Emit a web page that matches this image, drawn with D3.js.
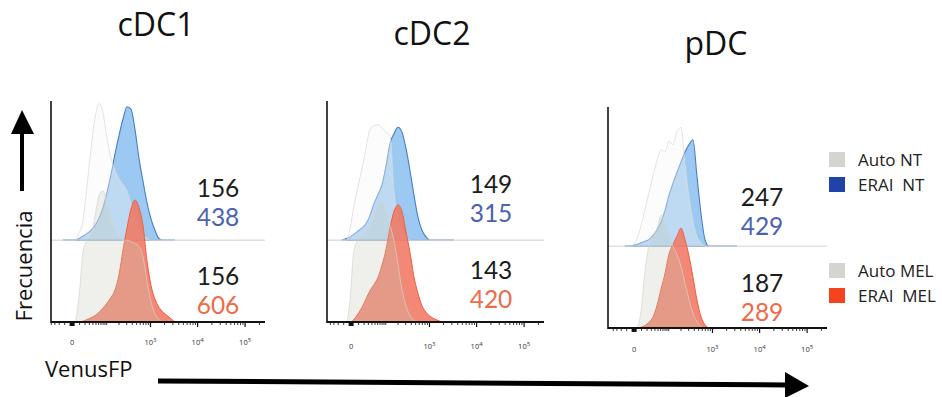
<!DOCTYPE html>
<html><head><meta charset="utf-8">
<script src="https://cdn.jsdelivr.net/npm/d3@7"></script>
<style>
html,body{margin:0;padding:0;background:#fff;}
svg{display:block;font-family:"Open Sans","Noto Sans",sans-serif;}
</style></head>
<body>
<svg id="chart" width="942" height="397"></svg>
<script>
// ---------- DATA ----------
const titles = ["cDC1", "cDC2", "pDC"];
// fluorescence (VenusFP) bin centres shared by all histograms
const binValues = [-13, -6, -1, 3, 9, 16, 24, 34, 47, 62, 80, 101, 128, 160, 200, 247, 305, 375, 460, 563, 688, 840, 1025, 1249, 1521, 1851, 2252, 2737, 3328];
// relative frequency per bin (100 = tier offset)
const autoNT  = [
  [0,0,0,0,8,25,65,110,150,167,155,125,100,85,75,68,60,45,28,14,6,2,0,0,0,0,0,0,0],
  [0,0,15,40,65,88,112,135,140,141,137,132,128,60,25,10,3,0,0,0,0,0,0,0,0,0,0,0,0],
  [0,0,2,8,25,45,65,85,105,118,115,128,124,140,145,100,60,30,12,4,0,0,0,0,0,0,0,0,0]
];
const eraiNT  = [
  [0,0,0,0,2,5,8,12,18,27,40,58,80,105,128,148,163,160,135,100,72,46,26,12,2,0,0,0,0],
  [0,2,4,7,11,15,20,30,45,56,68,90,118,130,138,132,112,85,55,28,12,4,0,0,0,0,0,0,0],
  [0,0,1,2,4,6,8,13,20,30,44,62,77,90,103,115,124,130,85,40,8,0,0,0,0,0,0,0,0]
];
const autoMEL = [
  [0,0,0,0,30,85,100,105,130,155,160,145,128,112,104,100,100,98,96,92,80,50,25,10,3,0,0,0,0],
  [0,0,30,85,100,105,110,118,130,142,146,135,118,100,70,40,20,8,2,0,0,0,0,0,0,0,0,0,0],
  [0,0,0,0,20,70,100,110,122,138,128,112,100,90,75,55,35,18,8,2,0,0,0,0,0,0,0,0,0]
];
const eraiMEL = [
  [0,0,0,0,0,1,3,5,8,12,17,23,30,39,58,88,115,138,149,140,118,75,45,28,18,12,8,4,0],
  [0,0,0,3,10,18,28,38,46,55,70,88,115,135,143,135,110,85,55,35,20,12,7,4,2,0,0,0,0],
  [0,0,0,0,1,3,7,13,28,48,67,90,102,112,122,108,88,62,34,14,4,0,0,0,0,0,0,0,0]
];
// MFI labels
const mfiAutoNT  = [156, 149, 247];
const mfiEraiNT  = [438, 315, 429];
const mfiAutoMEL = [156, 143, 187];
const mfiEraiMEL = [606, 420, 289];
// axis ticks
const tickMajor = [0, 1000, 10000, 100000];
const tickBase  = ["0", "10", "10", "10"];
const tickExp   = ["", "3", "4", "5"];
const legendLabels = ["Auto NT", "ERAI  NT", "Auto MEL", "ERAI  MEL"];

// ---------- LAYOUT ----------
const panels = [
  {x0:51,  axisX:51,  top:100, bottom:322, titleX:156, titleY:36, numX:218, numY:[197,285], tickY:345},
  {x0:330, axisX:327, top:103, bottom:322, titleX:432, titleY:45, numX:491, numY:[193,279], tickY:349},
  {x0:613, axisX:608, top:107, bottom:328, titleX:716, titleY:55, numX:762, numY:[206,292], tickY:352}
];
const lineGap = 29;
const plotW = 214, plotH = 221;
const col = {
  ntFill:"#96c6f0", ntStroke:"#4a7cc8",
  melFill:"#f07862", melStroke:"#f0603e",
  autoNTFill:"#f8f8f6", autoNTStroke:"#dcddd8",
  autoMELFill:"#c4c9b8", autoMELStroke:"#d2d4cc",
  numBlack:"#1c1c1c", numBlue:"#4a62b2", numRed:"#ef6a48"
};

const svg = d3.select("#chart");

// minor ticks
const minorTicks = [-40,-30,-20,-10];
for (let k = 1; k <= 5; k++) for (let m = 1; m <= 9; m++) {
  const v = m * Math.pow(10, k);
  if (v <= 262144 && tickMajor.indexOf(v) < 0) minorTicks.push(v);
}

panels.forEach((p, i) => {
  const g = svg.append("g");
  const x = d3.scaleSymlog().constant(23).domain([-41, 262144]).range([p.x0, p.x0 + plotW]);
  const y = d3.scaleLinear().domain([0, 270]).range([p.bottom, p.bottom - plotH]);
  const right = p.x0 + plotW;

  // title
  svg.append("text").attr("x", p.titleX).attr("y", p.titleY).attr("text-anchor","middle")
    .attr("font-size", 32).attr("fill","#111").text(titles[i]);

  // tier baseline
  g.append("line").attr("x1", p.axisX).attr("x2", right).attr("y1", y(100)).attr("y2", y(100))
    .attr("stroke","#c9d2de").attr("stroke-width",1);

  const mk = (base) => d3.area()
    .x((d, j) => x(binValues[j]))
    .y0(y(base)).y1(d => y(base + d))
    .curve(d3.curveMonotoneX);

  // ERAI NT (upper tier)
  g.append("path").attr("d", mk(100)(eraiNT[i])).attr("fill", col.ntFill).attr("fill-opacity",0.95)
    .attr("stroke", col.ntStroke).attr("stroke-width",1.1);
  // Auto NT (upper tier)
  g.append("path").attr("d", mk(100)(autoNT[i])).attr("fill", col.autoNTFill).attr("fill-opacity",0.38)
    .attr("stroke", col.autoNTStroke).attr("stroke-width",0.8);
  // ERAI MEL (lower tier)
  g.append("path").attr("d", mk(0)(eraiMEL[i])).attr("fill", col.melFill).attr("fill-opacity",0.88)
    .attr("stroke", col.melStroke).attr("stroke-width",1);
  // Auto MEL (lower tier)
  g.append("path").attr("d", mk(0)(autoMEL[i])).attr("fill", col.autoMELFill).attr("fill-opacity",0.28)
    .attr("stroke", col.autoMELStroke).attr("stroke-width",0.7);

  // axes
  g.append("line").attr("x1", p.axisX).attr("x2", p.axisX).attr("y1", y(270)).attr("y2", p.bottom + 1)
    .attr("stroke","#111").attr("stroke-width",1.6);
  g.append("line").attr("x1", p.axisX).attr("x2", right).attr("y1", p.bottom).attr("y2", p.bottom)
    .attr("stroke","#111").attr("stroke-width",2);
  g.selectAll(".mn").data(minorTicks).enter().append("line")
    .attr("x1", d => x(d)).attr("x2", d => x(d)).attr("y1", p.bottom).attr("y2", p.bottom + 3)
    .attr("stroke","#222").attr("stroke-width",0.9);
  g.selectAll(".mj").data(tickMajor).enter().append("line")
    .attr("x1", d => x(d)).attr("x2", d => x(d)).attr("y1", p.bottom).attr("y2", d => p.bottom + (d === 0 ? 4 : 5))
    .attr("stroke","#111").attr("stroke-width", d => d === 0 ? 5 : 1.2);
  const tl = g.selectAll(".tl").data(tickMajor).enter().append("text")
    .attr("x", d => x(d)).attr("y", p.tickY).attr("text-anchor","middle")
    .attr("font-size", 7.5).attr("fill","#333");
  tl.append("tspan").text((d, j) => tickBase[j]);
  tl.append("tspan").attr("dy", -3.5).attr("font-size", 6).text((d, j) => tickExp[j]);

  // MFI numbers: one text block per tier (auto on top, ERAI below)
  const blocks = [
    [[mfiAutoNT[i], col.numBlack], [mfiEraiNT[i], col.numBlue]],
    [[mfiAutoMEL[i], col.numBlack], [mfiEraiMEL[i], col.numRed]]
  ];
  blocks.forEach((b, k) => {
    const t = svg.append("text").attr("x", p.numX).attr("y", p.numY[k]).attr("text-anchor","middle")
      .attr("font-family","Lato, 'Open Sans', sans-serif").attr("font-size", 24.5);
    t.append("tspan").attr("x", p.numX).attr("fill", b[0][1]).text(b[0][0]);
    t.append("tspan").attr("x", p.numX).attr("dy", lineGap).attr("fill", b[1][1]).text(b[1][0]);
  });
});

// Y-axis label + arrow
svg.append("text").attr("transform","translate(32,266) rotate(-90)").attr("text-anchor","middle")
  .attr("font-size", 22).attr("fill","#111").text("Frecuencia");
svg.append("line").attr("x1",22).attr("x2",22).attr("y1",191).attr("y2",130).attr("stroke","#000").attr("stroke-width",4);
svg.append("path").attr("d","M22,110 L11,134 L34,134 Z").attr("fill","#000");

// X-axis label + arrow
svg.append("text").attr("x",45).attr("y",377).attr("font-size",22).attr("fill","#111").text("VenusFP");
svg.append("line").attr("x1",158).attr("x2",788).attr("y1",381).attr("y2",385).attr("stroke","#000").attr("stroke-width",5);
svg.append("path").attr("d","M785,372 L809,386 L785,398 Z").attr("fill","#000");

// legend
const legColors = ["#d3d5cf", "#1f43a6", "#d3d5cf", "#f4431e"];
const legY = [152, 177, 263, 288];
legendLabels.forEach((t, k) => {
  svg.append("rect").attr("x",829).attr("y",legY[k]).attr("width",16).attr("height",15).attr("fill",legColors[k]);
  svg.append("text").attr("x",858).attr("y",legY[k]+14).attr("font-size",17).attr("fill","#222")
    .attr("xml:space","preserve").style("white-space","pre").text(t);
});
</script>
</body></html>
